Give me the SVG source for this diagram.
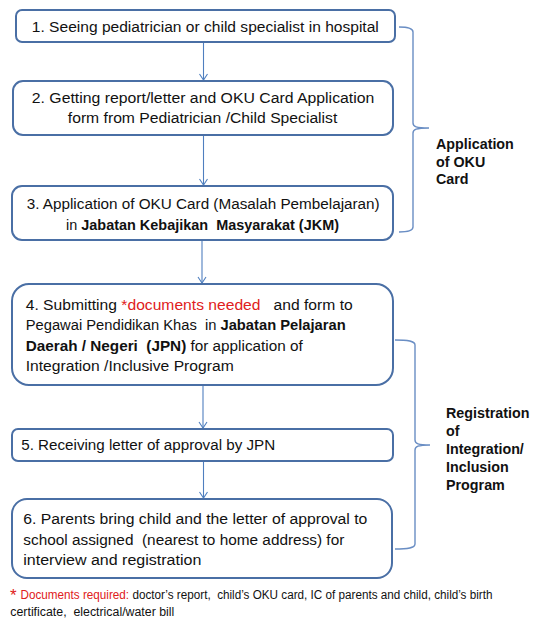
<svg xmlns="http://www.w3.org/2000/svg" width="537" height="629" viewBox="0 0 537 629">
<defs>
<style>
.box{fill:#fff;stroke:#4a6fa5;stroke-width:2}
.con{fill:none;stroke:#4f7fbf;stroke-width:1.1}
.brace{fill:none;stroke:#6a8ec4;stroke-width:1.4}
text{font-family:"Liberation Sans",Arial,sans-serif;fill:#111;white-space:pre}
.t{font-size:15.5px}
.b{font-weight:bold}
.red{fill:#e02020}
.lbl{font-size:14.3px;font-weight:bold}
.note{font-size:12.3px}
</style>
<marker id="ah" markerWidth="10" markerHeight="10" refX="8" refY="5" orient="auto" markerUnits="userSpaceOnUse">
<path d="M2,1 L8,5 L2,9" fill="none" stroke="#4f7fbf" stroke-width="1.1"/>
</marker>
</defs>
<rect width="537" height="629" fill="#fff"/>
<g id="connectors">
<line class="con" x1="203.5" y1="42" x2="203.5" y2="80" marker-end="url(#ah)"/>
<line class="con" x1="203.5" y1="135" x2="203.5" y2="185" marker-end="url(#ah)"/>
<line class="con" x1="202" y1="241" x2="202" y2="283" marker-end="url(#ah)"/>
<line class="con" x1="203" y1="386" x2="203" y2="428" marker-end="url(#ah)"/>
<line class="con" x1="203.5" y1="461" x2="203.5" y2="498" marker-end="url(#ah)"/>
</g>
<g id="brace1">
<path class="brace" d="M399,27 C408,27 413,28 413,32 L413,123 C413,126.5 416,128 429,128 C416,128 413,129.5 413,133 L413,227 C413,231 408,232 399,232"/>
<text class="lbl" x="436" y="148.5">Application</text>
<text class="lbl" x="436" y="166.5">of OKU</text>
<text class="lbl" x="436" y="184">Card</text>
</g>
<g id="brace2">
<path class="brace" d="M395,340 C408,340 415,341 415,345 L415,440 C415,443.5 418,445 430,445 C418,445 415,446.5 415,450 L415,544 C415,548 408,549 395,549"/>
<text class="lbl" x="446" y="417.5">Registration</text>
<text class="lbl" x="446" y="435.5">of</text>
<text class="lbl" x="446" y="453.5">Integration/</text>
<text class="lbl" x="446" y="471.5">Inclusion</text>
<text class="lbl" x="446" y="489.5">Program</text>
</g>
<g id="step1">
<rect class="box" x="16" y="10" width="379" height="32" rx="6"/>
<text class="t" x="31.8" y="31.5" textLength="347" lengthAdjust="spacingAndGlyphs">1. Seeing pediatrician or child specialist in hospital</text>
</g>
<g id="step2">
<rect class="box" x="13" y="81" width="380" height="54" rx="10"/>
<text class="t" x="31.8" y="103.3" textLength="342.5" lengthAdjust="spacingAndGlyphs">2. Getting report/letter and OKU Card Application</text>
<text class="t" x="67.8" y="123.3" textLength="269.5" lengthAdjust="spacingAndGlyphs">form from Pediatrician /Child Specialist</text>
</g>
<g id="step3">
<rect class="box" x="12" y="186" width="381" height="54" rx="10"/>
<text class="t" x="26.7" y="208.5" textLength="353" lengthAdjust="spacingAndGlyphs">3. Application of OKU Card (Masalah Pembelajaran)</text>
<text class="t" x="66" y="229.5" textLength="273" lengthAdjust="spacingAndGlyphs">in <tspan class="b">Jabatan Kebajikan  Masyarakat (JKM)</tspan></text>
</g>
<g id="step4">
<rect class="box" x="12" y="284" width="381" height="101" rx="17"/>
<text class="t" x="25.7" y="309.5" textLength="327" lengthAdjust="spacingAndGlyphs">4. Submitting <tspan class="red">*documents needed</tspan>   and form to</text>
<text class="t" x="25.7" y="330" textLength="320" lengthAdjust="spacingAndGlyphs">Pegawai Pendidikan Khas  in <tspan class="b">Jabatan Pelajaran</tspan></text>
<text class="t" x="25.7" y="350.5" textLength="277" lengthAdjust="spacingAndGlyphs"><tspan class="b">Daerah / Negeri  (JPN)</tspan> for application of</text>
<text class="t" x="25.7" y="371" textLength="208" lengthAdjust="spacingAndGlyphs">Integration /Inclusive Program</text>
</g>
<g id="step5">
<rect class="box" x="12" y="429" width="381" height="32" rx="6"/>
<text class="t" x="21.2" y="450" textLength="254" lengthAdjust="spacingAndGlyphs">5. Receiving letter of approval by JPN</text>
</g>
<g id="step6">
<rect class="box" x="12" y="499" width="380" height="79" rx="15"/>
<text class="t" x="23.3" y="524.3" textLength="344" lengthAdjust="spacingAndGlyphs">6. Parents bring child and the letter of approval to</text>
<text class="t" x="23.3" y="545" textLength="321" lengthAdjust="spacingAndGlyphs">school assigned  (nearest to home address) for</text>
<text class="t" x="23.3" y="565" textLength="178" lengthAdjust="spacingAndGlyphs">interview and registration</text>
</g>
<g id="footnote">
<text class="red" x="10" y="601" style="font-size:17px">*</text>
<text class="note" x="20.5" y="599" textLength="472" lengthAdjust="spacingAndGlyphs"><tspan class="red">Documents required:</tspan> doctor’s report,  child’s OKU card, IC of parents and child, child’s birth</text>
<text class="note" x="10.3" y="615.7" textLength="164" lengthAdjust="spacingAndGlyphs">certificate,  electrical/water bill</text>
</g>
</svg>
